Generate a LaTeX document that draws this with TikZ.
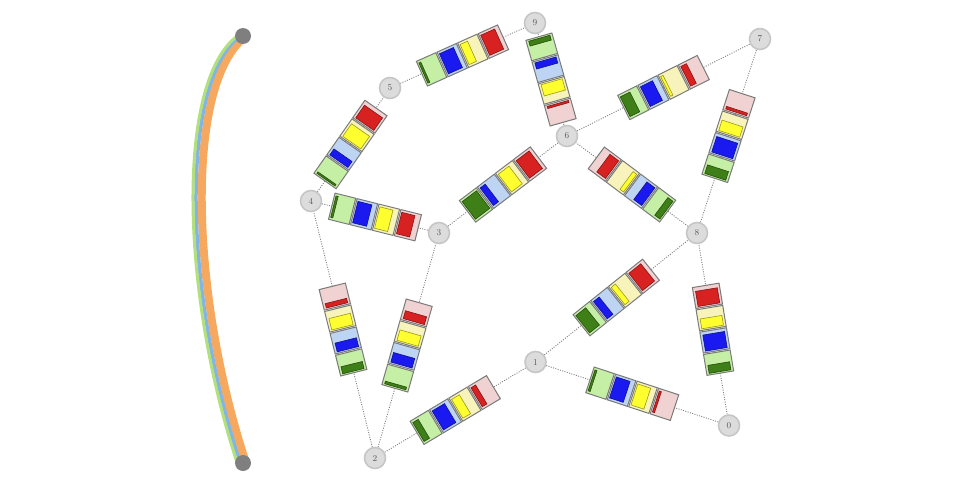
\documentclass[tikz,border=0pt]{standalone}
\usetikzlibrary{calc}
\pgfdeclarelayer{bg}
\pgfsetlayers{bg,main}
\definecolor{gbg}{HTML}{C4EFA4}
\definecolor{gfg}{HTML}{3F7F17}
\definecolor{bbg}{HTML}{BDD5F2}
\definecolor{bfg}{HTML}{1A1AF0}
\definecolor{ybg}{HTML}{F7F3BA}
\definecolor{yfg}{HTML}{FFFF30}
\definecolor{rbg}{HTML}{F0D2D2}
\definecolor{rfg}{HTML}{D82222}
\definecolor{nodefill}{HTML}{DCDCDC}
\definecolor{nodeline}{HTML}{C6C6C6}
\definecolor{edgecol}{HTML}{808080}
\definecolor{boxline}{HTML}{7A7A7A}
\definecolor{cgreen}{HTML}{B2E07C}
\definecolor{cblue}{HTML}{84B4E4}
\definecolor{corange}{HTML}{F6A95E}
\definecolor{endgrey}{HTML}{7F7F7F}
\tikzset{
  gnode/.style={circle, minimum size=21pt, inner sep=0pt, fill=nodefill, draw=nodeline,
    line width=1.6pt, text=black!65, font=\fontsize{9}{9}\selectfont},
  endpt/.style={circle, minimum size=16pt, inner sep=0pt, fill=endgrey},
  edge/.style={draw=edgecol, line width=0.9pt, dash pattern=on 1pt off 1.4pt},
  boxst/.style={draw=boxline, line width=1pt},
}
\newcommand\onebox[4]{%
  \draw[boxst, fill=#2] ({#1-10.6},-13.5) rectangle ({#1+10.6},13.5);
  \draw[fill=#3, draw=#3!60!black, line width=0.6pt] ({#1-9},-11) rectangle ({#1-9+#4*18},11);}
\newcommand\blk[6]{%
  \pgfmathanglebetweenpoints{\pgfpointanchor{#1}{center}}{\pgfpointanchor{#2}{center}}%
  \edef\blkang{\pgfmathresult}%
  \begin{scope}[shift={($(#1)!0.5!(#2)$)}, rotate=\blkang]
    \onebox{-33.9}{gbg}{gfg}{#3}
    \onebox{-11.3}{bbg}{bfg}{#4}
    \onebox{11.3}{ybg}{yfg}{#5}
    \onebox{33.9}{rbg}{rfg}{#6}
  \end{scope}}
\newcommand\strand[3]{%
  \draw[#1, line width=#2pt] ([xshift=#3pt]243,36) .. controls ([xshift=#3pt]182,82) and ([xshift=#3pt]186,290) .. ([xshift=#3pt]243,463);}
\begin{document}
\begin{tikzpicture}[x=1pt,y=-1pt]
\useasboundingbox (0,0) rectangle (980,490);
% left bundle
\strand{corange}{8}{3}
\strand{cblue}{3.5}{-2.75}
\strand{cgreen}{3}{-5.75}
\node[endpt] (ct) at (243,36) {};
\node[endpt] (cb) at (243,463) {};
% graph nodes
\node[gnode] (n0) at (729,425.5) {0};
\node[gnode] (n1) at (535.5,362) {1};
\node[gnode] (n2) at (375,458) {2};
\node[gnode] (n3) at (439,233) {3};
\node[gnode] (n4) at (311,201) {4};
\node[gnode] (n5) at (390,88) {5};
\node[gnode] (n6) at (567,136) {6};
\node[gnode] (n7) at (760,39) {7};
\node[gnode] (n8) at (697,233) {8};
\node[gnode] (n9) at (535,23) {9};
% edges
\begin{pgfonlayer}{bg}
\draw[edge] (n5) -- (n9);
\draw[edge] (n9) -- (n6);
\draw[edge] (n4) -- (n5);
\draw[edge] (n4) -- (n3);
\draw[edge] (n3) -- (n6);
\draw[edge] (n6) -- (n7);
\draw[edge] (n8) -- (n7);
\draw[edge] (n8) -- (n6);
\draw[edge] (n1) -- (n8);
\draw[edge] (n0) -- (n8);
\draw[edge] (n1) -- (n0);
\draw[edge] (n2) -- (n1);
\draw[edge] (n2) -- (n4);
\draw[edge] (n2) -- (n3);
\end{pgfonlayer}
% blocks
\blk{n5}{n9}{0.12}{0.85}{0.45}{0.85}
\blk{n9}{n6}{0.28}{0.35}{0.65}{0.12}
\blk{n4}{n5}{0.1}{0.4}{0.85}{0.85}
\blk{n4}{n3}{0.12}{0.8}{0.75}{0.75}
\blk{n3}{n6}{1.0}{0.35}{0.75}{0.9}
\blk{n6}{n7}{0.6}{0.75}{0.15}{0.35}
\blk{n8}{n7}{0.5}{0.9}{0.6}{0.15}
\blk{n8}{n6}{0.35}{0.55}{0.25}{0.6}
\blk{n1}{n8}{0.7}{0.4}{0.3}{0.85}
\blk{n0}{n8}{0.45}{0.9}{0.55}{0.85}
\blk{n1}{n0}{0.12}{0.8}{0.75}{0.12}
\blk{n2}{n1}{0.35}{0.8}{0.5}{0.3}
\blk{n2}{n4}{0.4}{0.5}{0.65}{0.25}
\blk{n2}{n3}{0.15}{0.55}{0.6}{0.45}
\end{tikzpicture}
\end{document}
